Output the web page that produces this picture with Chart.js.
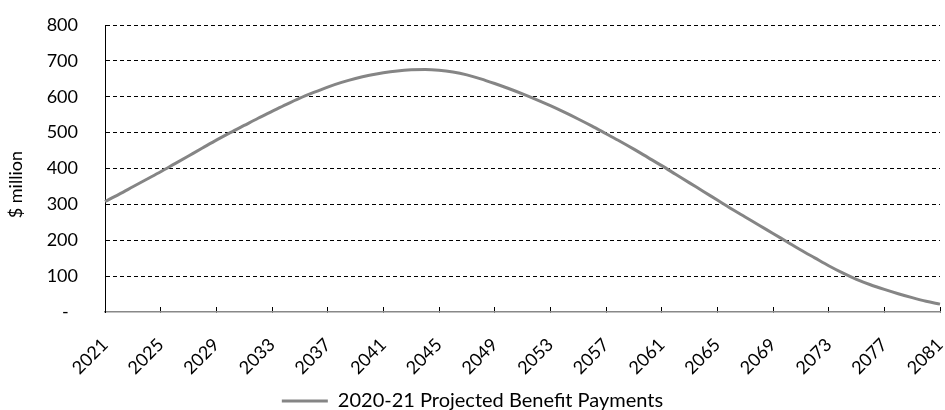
<!DOCTYPE html>
<html>
<head>
<meta charset="utf-8">
<script src="https://cdn.jsdelivr.net/npm/chart.js@4/dist/chart.umd.min.js"></script>
<style>
  html, body { margin: 0; padding: 0; background: #fff; }
  #wrap { width: 945px; height: 410px; }
</style>
</head>
<body>
<div id="wrap"><canvas id="benefitChart"></canvas></div>
<script>
// Projected benefit payments, $ million, one value per year
const years = [];
for (let y = 2021; y <= 2081; y++) years.push(String(y));

const payments = [
  308, 328, 349, 370, 391, 413, 435, 457, 479, 500,
  520, 540, 559, 578, 596, 612, 627, 640, 651, 660,
  667, 672, 675, 676, 674, 669, 661, 650, 637, 623,
  608, 592, 575, 557, 538, 518, 497, 476, 454, 431,
  408, 384, 360, 336, 312, 288, 265, 242, 219, 196,
  173, 151, 129, 109, 91, 76, 63, 51, 40, 30,
  22,
];

const yTicks = [0, 100, 200, 300, 400, 500, 600, 700, 800];
const seriesName = "2020-21 Projected Benefit Payments";
const yTitle = "$ million";

const FONT = "Lato";
const LINE_GREY = "#858585";

new Chart(document.getElementById("benefitChart"), {
  type: "line",
  data: {
    labels: years,
    datasets: [
      {
        label: seriesName,
        data: payments,
        borderColor: LINE_GREY,
        backgroundColor: LINE_GREY,
        borderWidth: 3,
        pointRadius: 0,
        tension: 0.4,
        cubicInterpolationMode: "monotone",
        fill: false,
      },
    ],
  },
  options: {
    responsive: true,
    maintainAspectRatio: false,
    animation: false,
    layout: {
      padding: { left: 5, right: 5, top: 25, bottom: -11 },
    },
    scales: {
      x: {
        offset: false,
        afterFit: (scale) => {
          // last rotated label may hang into the margin; fixed band for labels
          scale.paddingRight = 0;
          scale.height = 75;
        },
        grid: {
          drawOnChartArea: false,
          tickLength: -5,
          tickColor: "#000",
          tickWidth: 1,
        },
        border: { display: true, color: "#888", width: 1.5 },
        ticks: {
          autoSkip: false,
          maxRotation: 45,
          minRotation: 45,
          padding: 27,
          color: "#000",
          font: { family: FONT, size: 18 },
          callback: function (value, index) {
            return index % 4 === 0 ? this.getLabelForValue(value) : null;
          },
        },
      },
      y: {
        min: yTicks[0],
        max: yTicks[yTicks.length - 1],
        afterBuildTicks: (axis) => {
          axis.ticks = yTicks.map((v) => ({ value: v }));
        },
        afterFit: (scale) => {
          scale.width = 100;
          scale.paddingTop = 0;
          scale.paddingBottom = 0;
        },
        grid: {
          drawTicks: false,
          lineWidth: 1,
          color: (ctx) => (ctx.tick && ctx.tick.value === 0 ? "rgba(0,0,0,0)" : "#000"),
        },
        border: { display: true, color: "#000", width: 1, dash: [4, 3] },
        ticks: {
          padding: 27,
          color: "#000",
          font: { family: FONT, size: 18 },
          callback: (value) => (value === 0 ? "-  " : String(value)),
        },
        title: {
          display: true,
          // trailing spaces push the rotated title a little lower
          text: yTitle + "       ",
          color: "#000",
          font: { family: FONT, size: 18 },
          padding: { top: 0, bottom: 4 },
        },
      },
    },
    plugins: {
      legend: {
        position: "bottom",
        labels: {
          usePointStyle: true,
          pointStyle: "line",
          pointStyleWidth: 46,
          color: "#000",
          font: { family: FONT, size: 20 },
          padding: 4,
        },
      },
      tooltip: { enabled: false },
    },
  },
});
</script>
</body>
</html>
